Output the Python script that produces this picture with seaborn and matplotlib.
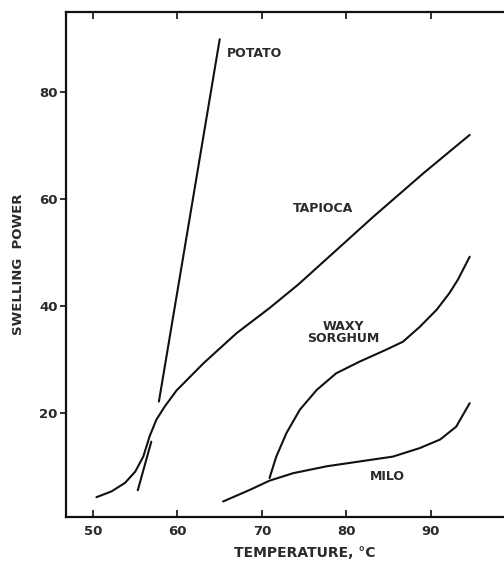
import matplotlib
matplotlib.use("Agg")
import matplotlib.pyplot as plt
import seaborn as sns
import pandas as pd

# ---- data ----
potato_low_x = [55.3, 56.9]
potato_low_y = [5.5, 14.6]
potato_high_x = [57.8, 65.0]
potato_high_y = [22.1, 89.9]

tapioca_x = [50.4, 52.2, 53.8, 55.0, 55.95, 56.7, 57.5, 58.5, 59.9, 63.1, 67.0, 70.9, 74.3, 83.2, 89.1, 94.6]
tapioca_y = [4.2, 5.3, 6.9, 9.0, 11.8, 15.6, 18.7, 21.2, 24.2, 29.3, 34.9, 39.6, 44.0, 56.7, 64.8, 72.0]

waxy_x = [70.9, 71.7, 72.9, 74.5, 76.5, 78.8, 81.6, 84.7, 86.7, 88.7, 90.7, 92.2, 93.2, 94.6]
waxy_y = [7.8, 11.8, 16.2, 20.6, 24.3, 27.4, 29.6, 31.8, 33.3, 36.1, 39.3, 42.4, 44.9, 49.2]

milo_x = [65.4, 68.6, 70.9, 73.7, 77.7, 81.6, 85.5, 88.7, 91.1, 93.0, 94.6]
milo_y = [3.4, 5.6, 7.3, 8.7, 10.0, 10.9, 11.8, 13.4, 15.0, 17.4, 21.8]

x_ticks = [50, 60, 70, 80, 90]
y_ticks = [20, 40, 60, 80]

labels = ["POTATO", "TAPIOCA", "WAXY\nSORGHUM", "MILO"]
label_x = [65.9, 77.2, 79.6, 84.8]
label_y = [87.3, 58.3, 35.0, 8.0]

segments = [
    ("potato_low", potato_low_x, potato_low_y),
    ("potato_high", potato_high_x, potato_high_y),
    ("tapioca", tapioca_x, tapioca_y),
    ("waxy", waxy_x, waxy_y),
    ("milo", milo_x, milo_y),
]
rows = []
for name, xs, ys in segments:
    for i, (xv, yv) in enumerate(zip(xs, ys)):
        rows.append({"seg": name, "order": i, "temp": xv, "sp": yv})
df = pd.DataFrame(rows)

sns.set_style("white")
plt.rcParams["font.family"] = ["DejaVu Sans"]

fig = plt.figure(figsize=(5.04, 5.64), dpi=100)
ax = fig.add_axes([66 / 504, (564 - 517) / 564, (506 - 66) / 504, (517 - 12) / 564])

for name, _, _ in segments:
    sub = df[df["seg"] == name]
    sns.lineplot(data=sub, x="temp", y="sp", sort=False, estimator=None,
                 color="#111111", linewidth=1.5, ax=ax, legend=False)

for t, lx, ly in zip(labels, label_x, label_y):
    ax.text(lx, ly, t, ha="left" if t == "POTATO" else "center", va="center",
            fontsize=9, fontweight="bold", color="#2a2a2a", linespacing=0.95)

ax.set_xlim(46.8, 98.9)
ax.set_ylim(0.5, 95)
ax.set_xticks(x_ticks)
ax.set_yticks(y_ticks)
ax.tick_params(axis="both", which="both", direction="in", length=5, width=1.3,
               colors="#222222", labelsize=9.5, top=True, right=True,
               bottom=True, left=True, pad=6)
ax.tick_params(axis="y", direction="out", length=4, pad=2)
for lab in ax.get_xticklabels() + ax.get_yticklabels():
    lab.set_fontweight("bold")
    lab.set_color("#2a2a2a")
for s in ax.spines.values():
    s.set_color("#111111")
    s.set_linewidth(1.6)

ax.set_xlabel("TEMPERATURE, °C", fontsize=10, fontweight="bold", color="#2a2a2a", labelpad=6)
ax.set_ylabel("SWELLING  POWER", fontsize=9.5, fontweight="bold", color="#2a2a2a", labelpad=10)
ax.xaxis.set_label_coords(0.543, -0.058)

fig.savefig("out.png", dpi=100)
